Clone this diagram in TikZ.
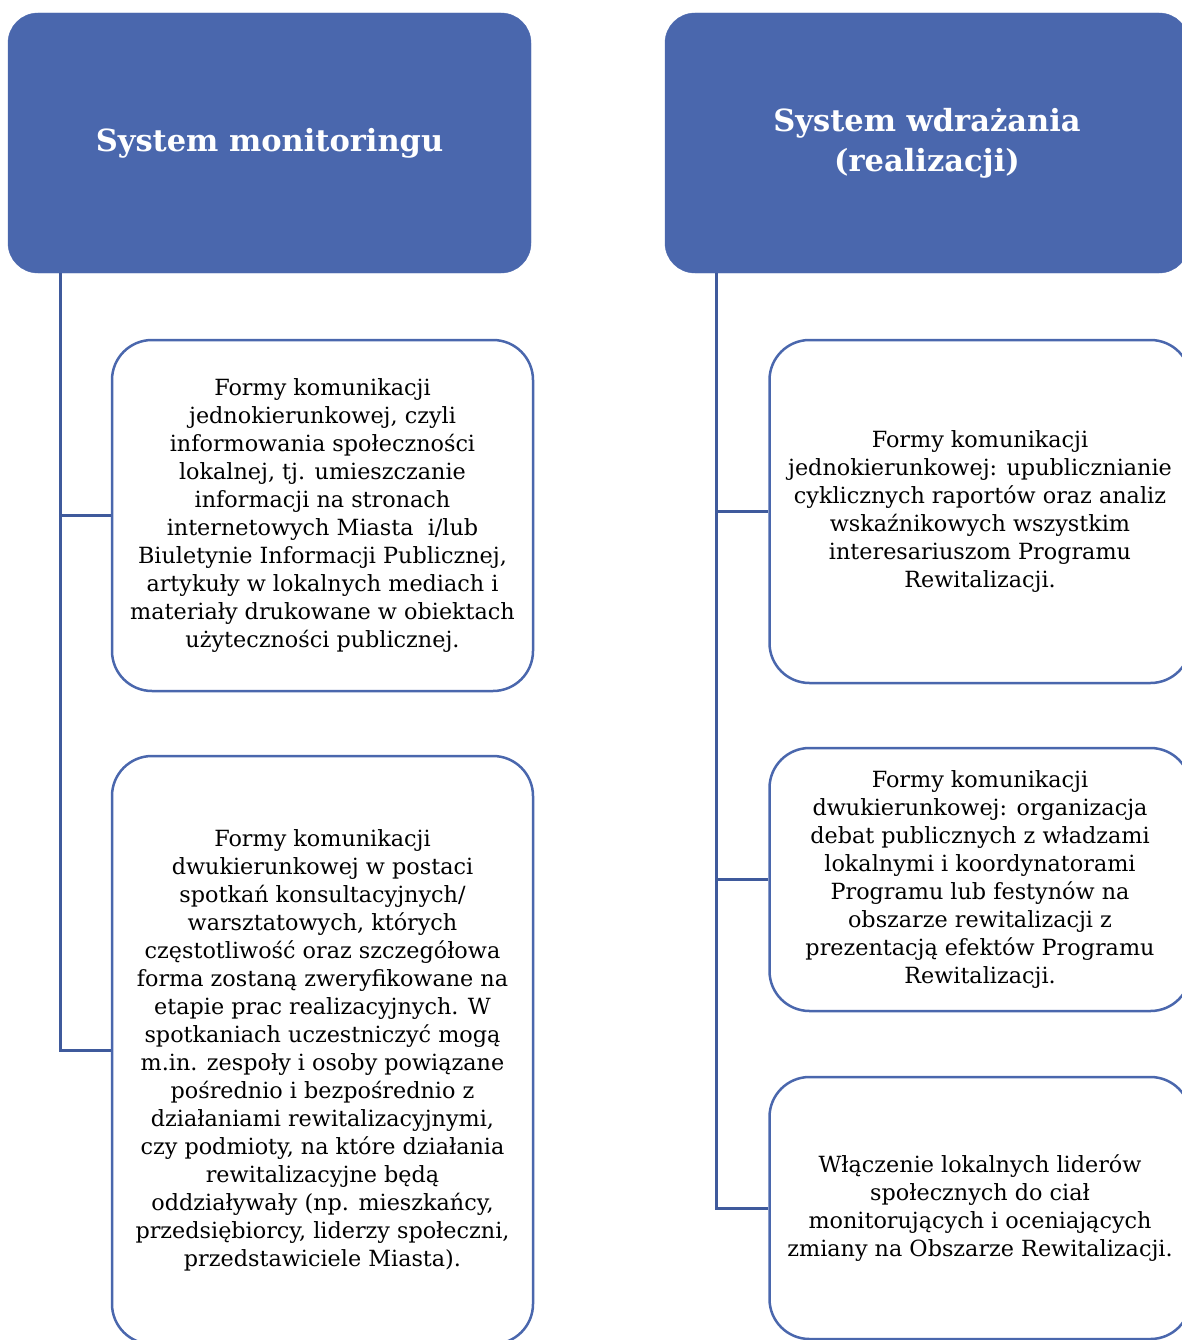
\documentclass[tikz,border=0pt]{standalone}
\usepackage{fontspec}
\setmainfont{DejaVu Serif}
\definecolor{hdr}{HTML}{4A67AD}
\definecolor{connc}{HTML}{3F5A9C}
\begin{document}
\begin{tikzpicture}[x=1pt,y=-1pt,
  hdrbox/.style={fill=hdr, draw=hdr, rounded corners=30pt, minimum height=260pt, inner sep=0pt, text=white, font=\fontsize{30.5}{40}\selectfont\bfseries, align=center},
  itembox/.style={draw=hdr, line width=2.5pt, fill=white, rounded corners=40pt, minimum width=421pt, inner sep=0pt, align=center, font=\fontsize{22.3}{28}\selectfont},
  conn/.style={draw=connc, line width=3pt}]
\useasboundingbox (0,0) rectangle (1182,1340);
\clip (0,0) rectangle (1182,1340);
\node[hdrbox, minimum width=523pt] (hl) at (269.5,143) {System monitoringu};
\node[hdrbox, minimum width=524pt] (hr) at (927,143) {System wdrażania\\(realizacji)};
\coordinate (lt) at (60,273);
\coordinate (rt) at (716,273);
\node[itembox, minimum height=351pt] (lb1) at (322.5,515.5) {Formy komunikacji\\jednokierunkowej, czyli\\informowania społeczności\\lokalnej, tj. umieszczanie\\informacji na stronach\\internetowych Miasta~ i/lub\\Biuletynie Informacji Publicznej,\\artykuły w lokalnych mediach i\\materiały drukowane w obiektach\\użyteczności publicznej.};
\node[itembox, minimum height=588pt] (lb2) at (322.5,1050) {Formy komunikacji\\dwukierunkowej w postaci\\spotkań konsultacyjnych/\\warsztatowych, których\\częstotliwość oraz szczegółowa\\forma zostaną zweryfikowane na\\etapie prac realizacyjnych. W\\spotkaniach uczestniczyć mogą\\m.in. zespoły i osoby powiązane\\pośrednio i bezpośrednio z\\działaniami rewitalizacyjnymi,\\czy podmioty, na które działania\\rewitalizacyjne będą\\oddziaływały (np. mieszkańcy,\\przedsiębiorcy, liderzy społeczni,\\przedstawiciele Miasta).};
\node[itembox, minimum height=343pt] (rb1) at (980,511.5) {Formy komunikacji\\jednokierunkowej: upublicznianie\\cyklicznych raportów oraz analiz\\wskaźnikowych wszystkim\\interesariuszom Programu\\Rewitalizacji.};
\node[itembox, minimum height=263pt] (rb2) at (980,879.5) {Formy komunikacji\\dwukierunkowej: organizacja\\debat publicznych z władzami\\lokalnymi i koordynatorami\\Programu lub festynów na\\obszarze rewitalizacji z\\prezentacją efektów Programu\\Rewitalizacji.};
\node[itembox, minimum height=262pt] (rb3) at (980,1208) {Włączenie lokalnych liderów\\społecznych do ciał\\monitorujących i oceniających\\zmiany na Obszarze Rewitalizacji.};
\draw[conn] (lt) |- (lb1.west);
\draw[conn] (lt) |- (lb2.west);
\draw[conn] (rt) |- (rb1.west);
\draw[conn] (rt) |- (rb2.west);
\draw[conn] (rt) |- (rb3.west);
\end{tikzpicture}
\end{document}
